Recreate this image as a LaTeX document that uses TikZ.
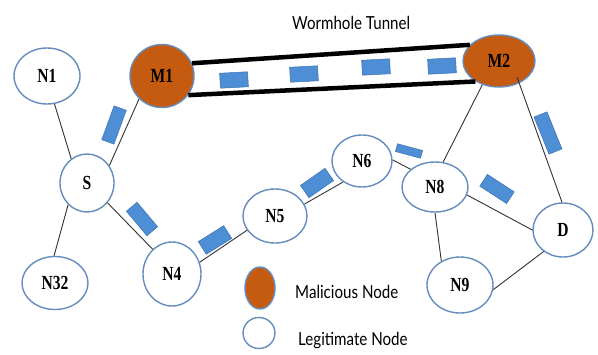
\documentclass[tikz,border=0pt]{standalone}
\usepackage{fontspec}
\setmainfont{Liberation Serif}
\newfontfamily\lblfont[FakeStretch=0.78]{Liberation Serif}
\newfontfamily\capfont[FakeStretch=0.84]{Lato}
\usetikzlibrary{shapes.geometric,calc}

\definecolor{nodeline}{RGB}{100,140,190}
\definecolor{malfill}{RGB}{197,90,17}
\definecolor{linkgray}{RGB}{50,50,50}
\definecolor{pktblue}{RGB}{78,142,212}
\definecolor{pktedge}{RGB}{60,115,180}

\tikzset{
  peer/.style={ellipse, draw=nodeline, line width=1.4pt, fill=white, inner sep=0pt,
    font=\lblfont\bfseries\fontsize{20}{20}\selectfont},
  rogue/.style={peer, fill=malfill},
  link/.style={draw=linkgray, line width=0.9pt},
  tunnelwall/.style={draw=black, line width=4.5pt},
  pkt/.style={rectangle, fill=pktblue, draw=pktedge, line width=0.5pt, inner sep=0pt},
  caption/.style={font=\capfont\fontsize{18}{18}\selectfont, anchor=base west, inner sep=0pt},
}

\begin{document}
\begin{tikzpicture}[x=1pt,y=-1pt]
  \fill[white] (0,0) rectangle (598,354);
  \useasboundingbox (0,0) rectangle (598,354);

  % network nodes
  \node[peer, minimum width=66pt, minimum height=56pt] (N1) at (47,76) {N1};
  \node[rogue, minimum width=64pt, minimum height=63pt] (M1) at (162,76) {M1};
  \node[rogue, minimum width=72pt, minimum height=52pt] (M2) at (499,61) {M2};
  \node[peer, minimum width=54pt, minimum height=58pt] (S) at (87,183) {S};
  \node[peer, minimum width=66pt, minimum height=53pt] (N32) at (55,283) {N32};
  \node[peer, minimum width=58pt, minimum height=64pt] (N4) at (172,274) {N4};
  \node[peer, minimum width=64pt, minimum height=54pt] (N5) at (275,216) {N5};
  \node[peer, minimum width=60pt, minimum height=52pt] (N6) at (362,161) {N6};
  \node[peer, minimum width=66pt, minimum height=50pt] (N8) at (435,187) {N8};
  \node[peer, minimum width=60pt, minimum height=54pt] (D) at (563,230) {D};
  \node[peer, minimum width=66pt, minimum height=56pt] (N9) at (460,285) {N9};

  % wormhole tunnel between the two malicious nodes
  \node[caption] (title) at (292,29) {Wormhole Tunnel};
  \draw[tunnelwall] (M1.23) -- (M2.151);
  \draw[tunnelwall] (M1.-36) -- (M2.-139);

  % links
  \draw[link] (N1.-75) -- (S.123);
  \draw[link] (S.38) -- (M1.-135);
  \draw[link] (S.-131) -- (N32.92);
  \draw[link] (S.-44) -- (N4.128);
  \draw[link] (N4.23) -- (N5.-153);
  \draw[link] (N5.22) -- (N6.-132);
  \draw[link] (N6.2) -- (N8.144);
  \draw[link] (M2.-125) -- (N8.72);
  \coordinate (M2tail) at ($(M2.center)+(18,16)$);
  \draw[link] (M2tail) -- (D.92);
  \draw[link] (N8.-14) -- (D.180);
  \draw[link] (N8.-90) -- (N9.128);
  \draw[link] (N9.-8) -- (D.-132);

  % packets along the route
  \node[pkt, minimum width=36pt, minimum height=13pt, rotate=70] (p1) at (114,125) {};
  \node[pkt, minimum width=28pt, minimum height=15pt, rotate=3] (t1) at (234,80) {};
  \node[pkt, minimum width=28pt, minimum height=15pt, rotate=3] (t2) at (304,74) {};
  \node[pkt, minimum width=28pt, minimum height=15pt, rotate=3] (t3) at (376,67) {};
  \node[pkt, minimum width=28pt, minimum height=15pt, rotate=3] (t4) at (442,66) {};
  \node[pkt, minimum width=32pt, minimum height=14pt, rotate=-50] (p2) at (142,219) {};
  \node[pkt, minimum width=30pt, minimum height=15pt, rotate=32] (p3) at (215,240) {};
  \node[pkt, minimum width=30pt, minimum height=15pt, rotate=35] (p4) at (317,183) {};
  \node[pkt, minimum width=26pt, minimum height=8pt, rotate=-15] (p5) at (409,151) {};
  \node[pkt, minimum width=32pt, minimum height=14pt, rotate=-33] (p6) at (497,189) {};
  \node[pkt, minimum width=40pt, minimum height=14pt, rotate=-68] (p7) at (548,133) {};

  % legend
  \node[rogue, minimum width=30pt, minimum height=42pt] (legM) at (260,288) {};
  \node[peer, minimum width=32pt, minimum height=31pt] (legL) at (259,333) {};
  \node[caption] (legMtxt) at (295,298) {Malicious Node};
  \node[caption] (legLtxt) at (298,345) {Legitimate Node};
\end{tikzpicture}
\end{document}
